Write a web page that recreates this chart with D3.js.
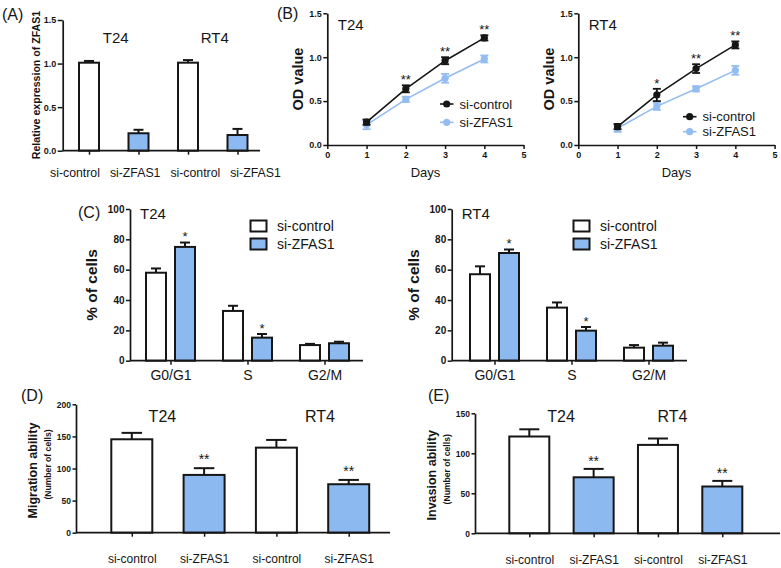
<!DOCTYPE html>
<html><head><meta charset="utf-8">
<script src="https://cdn.jsdelivr.net/npm/d3@7"></script>
<style>body{margin:0;background:#fff} svg{display:block;font-family:Arial,"Liberation Sans",Helvetica,sans-serif}</style>
</head><body><svg id="c" width="781" height="568"></svg>
<script>
// ---------------- DATA ----------------
const cellLines = ["T24", "RT4"];
const groupNames = ["si-control", "si-ZFAS1"];

// (A) relative expression
const aCategories = ["si-control", "si-ZFAS1", "si-control", "si-ZFAS1"];
const aExpression = [1.01, 0.20, 1.01, 0.18];
const aExpressionErr = [0.02, 0.04, 0.03, 0.07];
const aTicks = [0, 0.5, 1.0, 1.5];

// (B) proliferation (OD value)
const days = [1, 2, 3, 4];
const bXTicks = [0, 1, 2, 3, 4, 5];
const bYTicks = [0, 0.5, 1.0, 1.5];
const bT24Control = [0.26, 0.64, 0.96, 1.22];
const bT24ControlErr = [0.03, 0.04, 0.04, 0.03];
const bT24ZFAS1 = [0.23, 0.52, 0.76, 0.98];
const bT24ZFAS1Err = [0.05, 0.03, 0.05, 0.04];
const bT24Stars = ["", "**", "**", "**"];
const bRT4Control = [0.21, 0.57, 0.87, 1.14];
const bRT4ControlErr = [0.03, 0.07, 0.05, 0.04];
const bRT4ZFAS1 = [0.19, 0.44, 0.64, 0.85];
const bRT4ZFAS1Err = [0.04, 0.04, 0.03, 0.05];
const bRT4Stars = ["", "*", "**", "**"];

// (C) cell cycle
const phases = ["G0/G1", "S", "G2/M"];
const cTicks = [0, 20, 40, 60, 80, 100];
const cT24Control = [58, 32.8, 10.3];
const cT24ControlErr = [2.8, 3.4, 0.8];
const cT24ZFAS1 = [75, 15.2, 11.5];
const cT24ZFAS1Err = [2.9, 2.4, 1.0];
const cRT4Control = [57, 35, 8.6];
const cRT4ControlErr = [5.2, 3.4, 1.7];
const cRT4ZFAS1 = [71, 19.8, 9.9];
const cRT4ZFAS1Err = [2.3, 2.4, 2.0];
const cStars = ["*", "*", ""];

// (D) migration
const dCategories = ["si-control", "si-ZFAS1", "si-control", "si-ZFAS1"];
const dMigration = [145.5, 90, 132.5, 75.5];
const dMigrationErr = [10, 10.5, 12, 6.7];
const dStars = ["", "**", "", "**"];
const dTicks = [0, 50, 100, 150, 200];

// (E) invasion
const eCategories = ["si-control", "si-ZFAS1", "si-control", "si-ZFAS1"];
const eInvasion = [121, 70, 110.5, 58.5];
const eInvasionErr = [9, 10.5, 8, 7];
const eStars = ["", "**", "", "**"];
const eTicks = [0, 50, 100, 150];

// ---------------- DRAWING ----------------
const svg = d3.select("#c");
const INK = "#161616";
const BLUE = "#8DB9F1";
const LBLUE = "#93BDF0";

function label(x, y, s, o = {}) {
  const t = svg.append("text").attr("x", x).attr("y", y).text(s)
    .attr("fill", INK)
    .style("font-size", (o.size || 12) + "px")
    .style("font-weight", o.bold ? "bold" : "normal")
    .attr("text-anchor", o.anchor || "start");
  if (o.rotate) t.attr("transform", `rotate(-90,${x},${y})`);
  return t;
}

function styleAxis(g, fs, bold) {
  g.select(".domain").attr("stroke", INK).attr("stroke-width", 1.7);
  g.selectAll(".tick line").attr("stroke", INK).attr("stroke-width", 1.5);
  g.selectAll(".tick text").attr("fill", INK)
    .style("font-size", fs + "px").style("font-weight", bold ? "bold" : "normal")
    .style("font-family", 'Arial,"Liberation Sans",Helvetica,sans-serif');
}

function yAxis(x, scale, ticks, fmt, fs, size, pad) {
  const g = svg.append("g").attr("transform", `translate(${x},0)`)
    .call(d3.axisLeft(scale).tickValues(ticks).tickFormat(fmt).tickSize(size).tickPadding(pad).tickSizeOuter(0));
  styleAxis(g, fs, true);
}

function catAxis(y, x0, x1, scale, labels, fs, size, pad, bold) {
  svg.append("line").attr("x1", x0).attr("x2", x1).attr("y1", y).attr("y2", y)
    .attr("stroke", INK).attr("stroke-width", 1.7);
  const g = svg.append("g").attr("transform", `translate(0,${y})`)
    .call(d3.axisBottom(scale).tickFormat(i => labels ? labels[i] : "").tickSize(size).tickPadding(pad));
  g.select(".domain").remove();
  styleAxis(g, fs, bold);
}

function barSet(xs, ys, rows, w) {
  const g = svg.append("g");
  g.selectAll("line.eb").data(rows).enter().append("line")
    .attr("x1", d => xs(d.i)).attr("x2", d => xs(d.i))
    .attr("y1", d => ys(d.v)).attr("y2", d => ys(d.v + d.e))
    .attr("stroke", INK).attr("stroke-width", 2);
  g.selectAll("line.cap").data(rows).enter().append("line")
    .attr("x1", d => xs(d.i) - w / 4).attr("x2", d => xs(d.i) + w / 4)
    .attr("y1", d => ys(d.v + d.e)).attr("y2", d => ys(d.v + d.e))
    .attr("stroke", INK).attr("stroke-width", 2);
  g.selectAll("rect").data(rows).enter().append("rect")
    .attr("x", d => xs(d.i) - w / 2).attr("y", d => ys(d.v))
    .attr("width", w).attr("height", d => ys(0) - ys(d.v))
    .attr("fill", d => d.fill).attr("stroke", INK).attr("stroke-width", 2);
}

function stars(xs, ys, rows, fs, lift) {
  svg.append("g").selectAll("text").data(rows.filter(d => d.s)).enter().append("text")
    .attr("x", d => xs(d.i)).attr("y", d => ys(d.v + d.e) - lift)
    .attr("text-anchor", "middle").attr("fill", INK)
    .style("font-size", fs + "px").text(d => d.s);
}

// ---------- (A) ----------
{
  const y = d3.scaleLinear().domain([0, 1.5]).range([150.7, 20]);
  const x = d3.scalePoint().domain(d3.range(aCategories.length)).range([89, 237.5]);
  const xl = d3.scalePoint().domain(d3.range(aCategories.length)).range([75, 255.5]);
  const rows = aExpression.map((v, i) => ({ i, v, e: aExpressionErr[i], fill: i % 2 ? BLUE : "#fff" }));
  barSet(x, y, rows, 20);
  yAxis(62.7, y, aTicks, d3.format(".1f"), 9, 5, 1.5);
  catAxis(150.7, 62.7, 260, x, null, 12, 4, 13, false);
  svg.append("g").selectAll("text").data(aCategories).enter().append("text")
    .attr("x", (d, i) => xl(i)).attr("y", 176.5).attr("text-anchor", "middle")
    .attr("fill", INK).style("font-size", "12.3px").text(d => d);
  label(2, 20, "(A)", { size: 16 });
  label(36, 85, "Relative expression of ZFAS1", { size: 10.6, bold: true, rotate: true, anchor: "middle" }).attr("dy", "0.35em");
  cellLines.forEach((c, k) => label((x(2 * k) + x(2 * k + 1)) / 2 + 2, 43, c, { size: 15, anchor: "middle" }));
}

// ---------- (B) ----------
function linePanel(x0, title, ctrl, ctrlE, zf, zfE, st, legX, legY1, legY2) {
  const x = d3.scaleLinear().domain([0, 5]).range([x0, x0 + 196.3]);
  const y = d3.scaleLinear().domain([0, 1.5]).range([145, 13.3]);
  const series = [
    { vals: ctrl, errs: ctrlE, color: INK },
    { vals: zf, errs: zfE, color: LBLUE }
  ];
  const gx = svg.append("g").attr("transform", `translate(0,145)`)
    .call(d3.axisBottom(x).tickValues(bXTicks).tickFormat(d3.format("d")).tickSize(4).tickPadding(2.5).tickSizeOuter(0));
  styleAxis(gx, 9, true);
  yAxis(x0, y, bYTicks, d3.format(".1f"), 9, 4, 1.5);
  series.slice().reverse().forEach(s => {
    const pts = days.map((d, i) => ({ d, v: s.vals[i], e: s.errs[i] }));
    const g = svg.append("g");
    g.append("path").datum(pts)
      .attr("d", d3.line().x(p => x(p.d)).y(p => y(p.v)))
      .attr("fill", "none").attr("stroke", s.color).attr("stroke-width", 1.6);
    g.selectAll("line.v").data(pts).enter().append("line")
      .attr("x1", p => x(p.d)).attr("x2", p => x(p.d))
      .attr("y1", p => y(p.v - p.e)).attr("y2", p => y(p.v + p.e))
      .attr("stroke", s.color).attr("stroke-width", 1.8);
    ["-", "+"].forEach(sign => {
      g.selectAll(null).data(pts).enter().append("line")
        .attr("x1", p => x(p.d) - 4).attr("x2", p => x(p.d) + 4)
        .attr("y1", p => y(sign === "+" ? p.v + p.e : p.v - p.e))
        .attr("y2", p => y(sign === "+" ? p.v + p.e : p.v - p.e))
        .attr("stroke", s.color).attr("stroke-width", 1.8);
    });
    g.selectAll("circle").data(pts).enter().append("circle")
      .attr("cx", p => x(p.d)).attr("cy", p => y(p.v)).attr("r", 3.6).attr("fill", s.color);
  });
  svg.append("g").selectAll("text").data(days.map((d, i) => ({ d, s: st[i], v: ctrl[i] + ctrlE[i] })).filter(p => p.s))
    .enter().append("text").attr("x", p => x(p.d)).attr("y", p => y(p.v) - 1)
    .attr("text-anchor", "middle").attr("fill", INK).style("font-size", "13px").text(p => p.s);
  [legY1, legY2].forEach((ly, k) => {
    svg.append("line").attr("x1", legX).attr("x2", legX + 13.5).attr("y1", ly).attr("y2", ly)
      .attr("stroke", series[k].color).attr("stroke-width", 1.6);
    svg.append("circle").attr("cx", legX + 6.7).attr("cy", ly).attr("r", 3.6).attr("fill", series[k].color);
    label(legX + 19.5, ly + 4.6, groupNames[k], { size: 13 });
  });
  label(x0 + 10.5, 30, title, { size: 15 });
  label((x(0) + x(5)) / 2, 177, "Days", { size: 13, anchor: "middle" });
  label(x0 - 29.5, 79, "OD value", { size: 14.5, bold: true, rotate: true, anchor: "middle" }).attr("dy", "0.35em");
}
linePanel(327.3, "T24", bT24Control, bT24ControlErr, bT24ZFAS1, bT24ZFAS1Err, bT24Stars, 440, 104, 122.3);
linePanel(578.3, "RT4", bRT4Control, bRT4ControlErr, bRT4ZFAS1, bRT4ZFAS1Err, bRT4Stars, 683, 116.7, 131.7);
label(277, 19, "(B)", { size: 16 });

// ---------- (C) ----------
function cyclePanel(ax, c0, xEnd, title, ctrl, ctrlE, zf, zfE, legX) {
  const y = d3.scaleLinear().domain([0, 100]).range([360.7, 209]);
  const g = d3.scalePoint().domain(d3.range(phases.length)).range([c0, c0 + 154]);
  const off = 14.5;
  const xc = i => g(i) - off, xz = i => g(i) + off;
  barSet(xc, y, ctrl.map((v, i) => ({ i, v, e: ctrlE[i], fill: "#fff" })), 20);
  const zrows = zf.map((v, i) => ({ i, v, e: zfE[i], fill: BLUE, s: cStars[i] }));
  barSet(xz, y, zrows, 20);
  stars(xz, y, zrows, 13, 1.5);
  yAxis(ax, y, cTicks, d3.format("d"), 10, 4, 1.5);
  catAxis(360.7, ax, xEnd, g, phases, 14, 4, 5, false);
  label(ax + 10, 219, title, { size: 15 });
  label(ax - 38.5, 285, "% of cells", { size: 15.5, bold: true, rotate: true, anchor: "middle" }).attr("dy", "0.35em");
  [0, 1].forEach(k => {
    svg.append("rect").attr("x", legX).attr("y", 220.5 + k * 18).attr("width", 16).attr("height", 11)
      .attr("fill", k ? BLUE : "#fff").attr("stroke", INK).attr("stroke-width", 2);
    label(legX + 26.5, 231 + k * 18, groupNames[k], { size: 14 });
  });
}
cyclePanel(130, 170.5, 363, "T24", cT24Control, cT24ControlErr, cT24ZFAS1, cT24ZFAS1Err, 250.5);
cyclePanel(451.7, 494.5, 687, "RT4", cRT4Control, cRT4ControlErr, cRT4ZFAS1, cRT4ZFAS1Err, 573.5);
label(78, 218, "(C)", { size: 16 });

// ---------- (D) & (E) ----------
function abilityPanel(ax, xEnd, y0, yTop, maxV, ticks, centers, cats, vals, errs, st, w, titleX, starLift, t1, t2, tagX, tag) {
  const y = d3.scaleLinear().domain([0, maxV]).range([y0, yTop]);
  const x = d3.scalePoint().domain(d3.range(cats.length)).range(centers);
  const rows = vals.map((v, i) => ({ i, v, e: errs[i], fill: i % 2 ? BLUE : "#fff", s: st[i] }));
  barSet(x, y, rows, w);
  stars(x, y, rows, 14, starLift);
  yAxis(ax, y, ticks, d3.format("d"), 8.5, 3.5, 1.5);
  catAxis(y0, ax, xEnd, x, cats, 12, 4, 18, false);
  cellLines.forEach((c, k) => label(titleX[k], 422, c, { size: 16, anchor: "middle" }));
  label(ax - 43, (y0 + yTop) / 2 + 2, t1, { size: 12.5, bold: true, rotate: true, anchor: "middle" }).attr("dy", "0.35em");
  label(ax - 28, (y0 + yTop) / 2 - 4, t2, { size: 8.6, bold: true, rotate: true, anchor: "middle" }).attr("dy", "0.35em");
  label(tagX, 401, tag, { size: 16 });
}
abilityPanel(76, 390, 532.7, 404.3, 200, dTicks, [131.8, 348.7], dCategories, dMigration, dMigrationErr, dStars, 41,
  [162.4, 320], 4, "Migration ability", "(Number of cells)", 21, "(D)");
abilityPanel(475, 780, 533.3, 413.3, 150, eTicks, [529.3, 722.3], eCategories, eInvasion, eInvasionErr, eStars, 40,
  [561, 672.5], 2.5, "Invasion ability", "(Number of cells)", 428, "(E)");
</script>
</body></html>
